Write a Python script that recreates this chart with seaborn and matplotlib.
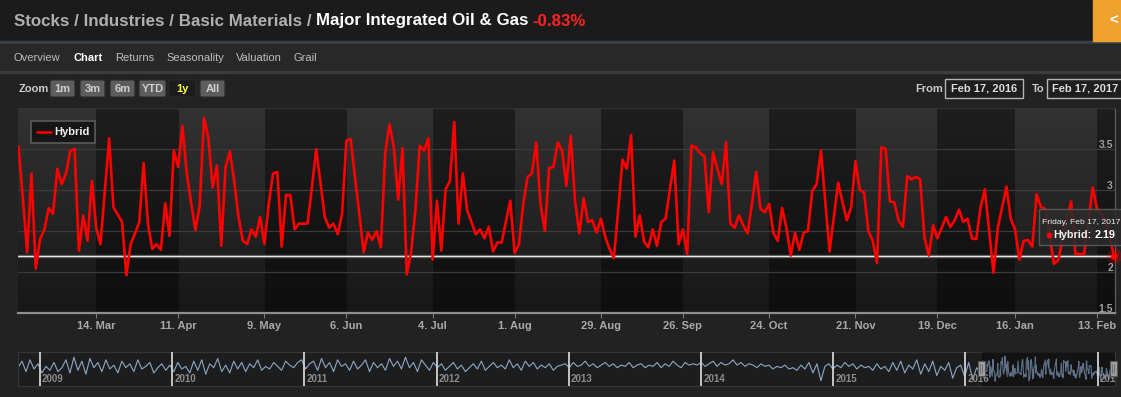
import numpy as np
import pandas as pd
import matplotlib
matplotlib.use("Agg")
import matplotlib.pyplot as plt
import matplotlib.dates as mdates
import matplotlib.patheffects as pe
from matplotlib.patches import Rectangle, FancyBboxPatch
from matplotlib.transforms import ScaledTranslation
import seaborn as sns

sns.set_theme(style="dark")
plt.rcParams["font.family"] = ["Liberation Sans", "DejaVu Sans"]

W, H = 1121, 397

# ---------------- data ----------------
start_date = "2016-02-17"
end_date = "2017-02-17"
market_holidays = ["2016-03-25", "2016-05-30", "2016-07-04", "2016-09-05",
                   "2016-11-24", "2016-12-26", "2017-01-02", "2017-01-16"]

hybrid = [
    3.53, 2.90, 2.24, 3.20, 2.04, 2.40, 2.52, 2.78, 2.71, 3.26, 3.07, 3.20, 3.48, 3.50, 2.26, 2.69,
    2.38, 3.11, 2.54, 2.34, 2.99, 3.63, 2.79, 2.70, 2.61, 1.96, 2.34, 2.47, 2.61, 3.33, 2.59, 2.28,
    2.34, 2.27, 2.84, 2.44, 3.48, 3.28, 3.78, 3.20, 2.85, 2.51, 2.81, 3.88, 3.64, 3.03, 3.30, 2.32,
    3.28, 3.47, 3.11, 2.67,
    2.38, 2.34, 2.52, 2.43, 2.67, 2.34, 2.83, 3.20, 3.22, 2.31, 2.94, 2.94, 2.52, 2.59, 2.59, 2.59,
    3.03, 3.50, 3.09, 2.67, 2.54, 2.59, 2.46, 2.71, 3.60, 3.62, 3.15, 2.71, 2.24, 2.48, 2.39, 2.50,
    2.30, 3.45, 3.80, 3.52, 2.88, 3.51, 1.97, 2.24, 2.75, 3.54, 3.48, 3.63, 2.15, 2.87, 2.26, 3.01,
    3.11, 3.83, 2.59,
    3.20, 2.75, 2.61, 2.46, 2.52, 2.41, 2.55, 2.25, 2.36, 2.36, 2.62, 2.87, 2.23, 2.34, 2.83, 3.16,
    3.20, 3.58, 2.83, 2.50, 3.27, 3.28, 3.58, 3.48, 3.05, 3.66, 2.87, 2.47, 2.90, 2.61, 2.63, 2.48,
    2.65, 2.43, 2.28, 2.17, 2.75, 3.37, 3.26, 3.67, 2.43, 2.69, 2.37, 2.30, 2.52, 2.32, 2.61, 2.65,
    3.01, 3.36, 2.34,
    2.52, 2.22, 3.54, 3.52, 3.45, 3.41, 2.73, 3.46, 3.26, 3.07, 3.58, 2.59, 2.54, 2.69, 2.57, 2.47,
    2.83, 3.22, 2.77, 2.73, 2.83, 2.47, 2.38, 2.78, 2.54, 2.20, 2.48, 2.27, 2.48, 2.50, 2.99, 3.07,
    3.48, 2.87, 2.25, 2.67, 3.09, 2.85, 2.63, 2.79, 3.35, 3.00, 2.97, 2.50, 2.38, 2.11, 3.52, 3.50,
    2.86, 2.85, 2.63,
    2.55, 3.17, 3.13, 3.16, 3.13, 2.42, 2.20, 2.57, 2.41, 2.54, 2.67, 2.55, 2.63, 2.76, 2.61, 2.65,
    2.41, 2.40, 2.79, 3.01, 2.50, 1.99, 2.54, 2.79, 3.04, 2.65, 2.52, 2.15, 2.38, 2.39, 2.31, 2.95,
    2.79, 2.77, 2.45, 2.10, 2.14, 2.40, 2.65, 2.86, 2.22, 2.22, 2.22, 2.62, 3.03, 2.77, 2.70, 2.62,
    2.40, 2.19,
]

tick_dates = ["2016-03-14", "2016-04-11", "2016-05-09", "2016-06-06", "2016-07-04",
              "2016-08-01", "2016-08-29", "2016-09-26", "2016-10-24", "2016-11-21",
              "2016-12-19", "2017-01-16", "2017-02-13"]
tick_labels = ["14. Mar", "11. Apr", "9. May", "6. Jun", "4. Jul", "1. Aug", "29. Aug",
               "26. Sep", "24. Oct", "21. Nov", "19. Dec", "16. Jan", "13. Feb"]
grid_values = [2.0, 2.5, 3.0, 3.5, 4.0]
# the 2.5 label sits behind the tooltip in the reference, so only these are visible
y_label_values = [1.5, 2.0, 3.0, 3.5]
y_label_texts = ["1.5", "2", "3", "3.5"]

# navigator history before the selected year (estimated from the overview strip, Nov 2008 - Feb 2016)
nav_start = "2008-11-01"
nav_hist_2008 = [3.0, 3.5, 2.7, 3.6, 2.9]
nav_hist_2009 = [3.3, 2.6, 3.1, 2.8, 3.4, 2.7, 3.0, 3.6, 2.6, 3.8, 2.8, 3.5, 2.5, 3.7, 3.0, 3.4, 2.7,
                 3.6, 2.9, 3.2, 2.6, 3.5, 3.0, 3.3, 2.7, 3.6, 2.9, 3.1, 3.4, 2.6, 3.0, 3.3, 2.8]
nav_hist_2010 = [3.2, 2.7, 3.4, 2.9, 3.1, 2.6, 3.5, 2.8, 3.6, 2.5, 3.3, 3.0, 3.7, 2.7, 3.2, 2.6, 3.5,
                 2.9, 3.4, 2.7, 3.3, 3.0, 3.6, 2.8, 3.1, 2.9, 3.4, 3.1, 2.8, 3.5, 3.2, 3.0, 3.4]
nav_hist_2011 = [3.6, 2.9, 3.3, 3.5, 2.8, 3.7, 3.0, 3.4, 2.7, 3.6, 3.1, 3.3, 2.8, 3.5, 2.9, 3.2, 3.6,
                 2.7, 3.4, 3.0, 3.3, 2.8, 3.7, 3.1, 3.5, 2.9, 3.8, 3.0, 3.4, 2.7, 3.6, 3.2, 2.8]
nav_hist_2012 = [3.4, 3.0, 3.3, 2.8, 3.1, 3.4, 2.9, 3.2, 2.7, 3.0, 3.3, 2.9, 3.5, 2.8, 3.1, 3.4, 3.0,
                 3.2, 2.9, 3.6, 3.0, 3.3, 2.8, 3.5, 3.1, 3.4, 2.9, 3.2, 3.0, 3.3, 2.8, 3.1, 3.2]
nav_hist_2013 = [3.3, 3.0, 3.4, 3.1, 3.2, 3.5, 3.1, 3.3, 3.0, 3.2, 3.4, 3.1, 3.3, 3.0, 3.2, 3.1, 3.4,
                 3.0, 3.2, 3.3, 3.0, 3.2, 3.1, 3.4, 3.0, 3.3, 3.1, 3.5, 3.2, 3.0, 3.4, 3.2, 3.3]
nav_hist_2014 = [3.2, 3.4, 3.1, 3.3, 3.5, 3.1, 3.4, 3.2, 3.3, 3.6, 3.2, 3.4, 3.1, 3.3, 3.2, 3.0, 3.3,
                 3.1, 3.2, 2.9, 3.1, 3.0, 3.2, 2.9, 3.0, 2.8, 3.2, 2.9, 3.4, 2.6, 3.3, 2.0, 3.1]
nav_hist_2015 = [3.3, 2.9, 3.2, 3.0, 3.4, 3.1, 3.3, 2.9, 3.2, 3.0, 3.1, 2.8, 3.3, 2.9, 3.1, 2.7, 3.4,
                 2.8, 3.5, 2.6, 3.2, 2.9, 3.6, 2.5, 3.3, 2.7, 3.5, 2.4, 3.1, 2.8, 3.4, 2.2, 3.0]
nav_hist_2016 = [3.2, 2.3, 3.4, 2.1, 3.0, 2.6]
nav_years = [2009, 2010, 2011, 2012, 2013, 2014, 2015, 2016, 2017]

tabs = ["Overview", "Chart", "Returns", "Seasonality", "Valuation", "Grail"]
zoom_buttons = ["1m", "3m", "6m", "YTD", "1y", "All"]

# ---------------- figure ----------------
fig = plt.figure(figsize=(W / 100, H / 100), dpi=100, facecolor="#222222")


def px_axes(x0, y0, x1, y1, **kw):
    return fig.add_axes([x0 / W, 1 - y1 / H, (x1 - x0) / W, (y1 - y0) / H], **kw)


bg = px_axes(0, 0, W, H, zorder=0)
bg.set_xlim(0, W); bg.set_ylim(H, 0); bg.axis("off")
fg = px_axes(0, 0, W, H, zorder=10)
fg.set_xlim(0, W); fg.set_ylim(H, 0); fg.axis("off")

renderer = fig.canvas.get_renderer()


def chain(ax_, x, y, parts, size, weight, gap, **kw):
    for s, col in parts:
        t = ax_.text(x, y, s, color=col, fontsize=size, fontweight=weight, ha="left", va="center", **kw)
        bb = t.get_window_extent(renderer=renderer)
        x += bb.width + gap
    return x


# header
bg.add_patch(Rectangle((0, 0), W, 41, color="#1b1b1b"))
bg.add_patch(Rectangle((0, 41), W, 3, color="#384048"))
bg.add_patch(Rectangle((0, 44), W, 27, color="#282828"))
bg.add_patch(Rectangle((0, 71), W, 1.5, color="#3c3c3c"))
bg.add_patch(Rectangle((1093, 0), 28, 41, color="#eea12c"))
bg.text(1114, 21, "<", color="white", fontsize=11, fontweight="bold", ha="center", va="center")

chain(bg, 14, 21, [("Stocks / Industries / Basic Materials /", "#b0b0b0"),
                   ("Major Integrated Oil & Gas", "#ffffff"),
                   ("-0.83%", "#ff2222")], 12.2, "bold", 4)

tab_x = [14, 73, 115, 166, 236, 294]
for name, tx in zip(tabs, tab_x):
    chart = name == "Chart"
    bg.text(tx, 58, name, color="#ffffff" if chart else "#bdbdbd", fontsize=8,
            fontweight="bold" if chart else "normal", ha="left", va="center")

bg.text(19, 88.5, "Zoom", color="#cccccc", fontsize=8, fontweight="bold", ha="left", va="center")
btn_x = [(50, 75), (80, 105), (110, 135), (139, 166), (169, 196), (200, 225)]
for lab, (bx0, bx1) in zip(zoom_buttons, btn_x):
    sel = lab == "1y"
    bg.add_patch(FancyBboxPatch((bx0, 80), bx1 - bx0, 17, boxstyle="round,pad=0,rounding_size=2",
                                fc="#1c1c1c" if sel else "#5d5d5d", ec="#2a2a2a", lw=0.8))
    bg.text((bx0 + bx1) / 2, 88.5, lab, color="#ffff3a" if sel else "#cfcfcf", fontsize=8,
            fontweight="bold", ha="center", va="center")

bg.text(915, 88.5, "From", color="#cccccc", fontsize=8, fontweight="bold", ha="left", va="center")
bg.add_patch(Rectangle((945, 79), 78, 19, fc="#1e1e1e", ec="#b5b5b5", lw=1))
bg.text(984, 88.5, "Feb 17, 2016", color="#dddddd", fontsize=8, fontweight="bold", ha="center", va="center")
bg.text(1032, 88.5, "To", color="#cccccc", fontsize=8, fontweight="bold", ha="left", va="center")
bg.add_patch(Rectangle((1047, 79), 80, 19, fc="#1e1e1e", ec="#b5b5b5", lw=1))
bg.text(1052, 88.5, "Feb 17, 2017", color="#dddddd", fontsize=8, fontweight="bold", ha="left", va="center")

# ---------------- main chart ----------------
dates = pd.bdate_range(start_date, end_date, freq="C", holidays=market_holidays)
n = min(len(dates), len(hybrid))
dates = dates[:n]
df = pd.DataFrame({"i": np.arange(n), "v": hybrid[:n], "date": dates})
tickpos = dates.searchsorted(pd.to_datetime(tick_dates))

ax = px_axes(18, 108, 1114.5, 313, zorder=2)
ax.set_facecolor("none")
x0, x1 = -0.12, n - 1 + 0.05
ylo, yhi = 1.5, 4.0

cols = np.linspace(x0, x1, 2200)
bid = np.searchsorted(tickpos, cols, side="right")
light = (bid % 2 == 0)[:, None]
rgb = matplotlib.colors.to_rgb
top = np.where(light, rgb("#323232"), rgb("#1e1e1e"))
bot = np.where(light, rgb("#171717"), rgb("#0e0e0e"))
tt = np.linspace(0, 1, 200)[:, None, None]
img = top[None] * (1 - tt) + bot[None] * tt
ax.imshow(img, extent=(x0, x1, ylo, yhi), aspect="auto", origin="upper",
          interpolation="nearest", zorder=0)

for v in grid_values:
    ax.axhline(v, color="#3b3b3b", lw=0.9, zorder=1)

last_v = hybrid[n - 1]
ax.axhline(last_v, color="#e8e8e8", lw=0.8, zorder=3,
           path_effects=[pe.Stroke(linewidth=2.4, foreground="#5e5e5e"), pe.Normal()])

sns.lineplot(data=df, x="i", y="v", ax=ax, color="#ff0000", linewidth=1.9, zorder=4, legend=False)
ax.scatter([n - 1], [last_v], s=120, color="#ff0000", alpha=0.25, linewidths=0, zorder=5, clip_on=False)
ax.scatter([n - 1], [last_v], s=24, color="#ff0000", linewidths=0, zorder=6, clip_on=False)

ax.set_xlim(x0, x1)
ax.set_ylim(ylo, yhi)
ax.set_xlabel(""); ax.set_ylabel("")
ax.set_xticks(tickpos)
ax.set_xticklabels(tick_labels)
ax.set_yticks([])
ax.tick_params(axis="x", bottom=True, length=3.6, width=0.8, color="#7a7a7a",
               labelcolor="#a9a9a9", labelsize=8, pad=2.3, direction="out")
for lab in ax.get_xticklabels():
    lab.set_fontweight("bold")
for side, spine in ax.spines.items():
    spine.set_visible(True)
ax.spines["bottom"].set_color("#8e8e8e"); ax.spines["bottom"].set_linewidth(1.6)
ax.spines["right"].set_color("#5e5e5e"); ax.spines["right"].set_linewidth(0.9)
ax.spines["top"].set_color("#333333"); ax.spines["top"].set_linewidth(0.8)
ax.spines["left"].set_visible(False)

ylab_tr = ax.get_yaxis_transform() + ScaledTranslation(-1.5 / 100, 4 / 100, fig.dpi_scale_trans)
for v, lab in zip(y_label_values, y_label_texts):
    ax.text(1.0, v, lab, transform=ylab_tr, ha="right", va="center", color="#a0a0a0",
            fontsize=7.5, fontweight="bold", zorder=7)

# legend
fg.add_patch(Rectangle((30.5, 120.5), 64.5, 22, fc="#161616", ec="#5a5a5a", lw=1.2))
fg.plot([37, 51], [132, 132], color="#ff0000", lw=1.8)
fg.text(54, 132, "Hybrid", color="#eeeeee", fontsize=8, fontweight="bold", ha="left", va="center")

# tooltip
fg.add_patch(Rectangle((1039, 209), 90, 36, fc="#2b2b2b", ec="#5c5c5c", lw=1, alpha=0.88))
fg.text(1042, 222, "Friday, Feb 17, 2017", color="#f0f0f0", fontsize=6.1, ha="left", va="center")
fg.plot([1048.5], [234.5], "o", color="#ff0000", ms=3.2)
chain(fg, 1053, 234.5, [("Hybrid:", "#f0f0f0"), (f"{last_v:.2f}", "#ffffff")], 7.8, "bold", 3)

# ---------------- navigator ----------------
nav_hist = (nav_hist_2008 + nav_hist_2009 + nav_hist_2010 + nav_hist_2011 + nav_hist_2012
            + nav_hist_2013 + nav_hist_2014 + nav_hist_2015 + nav_hist_2016)
nav = px_axes(18, 352, 1115, 386, zorder=2)
nav.set_facecolor("#1d1d1d")
hist_dates = pd.date_range(nav_start, "2016-02-12", periods=len(nav_hist))
nav_df = pd.DataFrame({"d": list(hist_dates) + list(dates), "v": list(nav_hist) + list(hybrid[:n])})
nav_df["x"] = mdates.date2num(nav_df["d"])
sns.lineplot(data=nav_df, x="x", y="v", ax=nav, color="#8ba7c9", linewidth=0.8, legend=False)
nx0 = mdates.date2num(pd.Timestamp(nav_start))
nx1 = mdates.date2num(pd.Timestamp(end_date))
nav.set_xlim(nx0, nx1)
nav.set_ylim(1.6, 4.2)
nav.set_xticks([]); nav.set_yticks([])
nav.set_xlabel(""); nav.set_ylabel("")
for s in nav.spines.values():
    s.set_visible(True); s.set_color("#363636"); s.set_linewidth(0.8)
nav.axvspan(mdates.date2num(pd.Timestamp(start_date)), nx1, color="#000000", alpha=0.32, zorder=3)
lab_tr = nav.get_xaxis_transform() + ScaledTranslation(2 / 100, 0, fig.dpi_scale_trans)
for yr in nav_years:
    xv = mdates.date2num(pd.Timestamp(f"{yr}-01-01"))
    nav.axvline(xv, color="#d2d2d2", lw=1.3, zorder=4)
    nav.text(xv, 0.06, str(yr), transform=lab_tr, color="#8c8c8c", fontsize=7, fontweight="bold",
             ha="left", va="bottom", zorder=5, clip_on=True)

for hx in (981, 1113):
    fg.add_patch(Rectangle((hx - 3.5, 361), 7, 15, fc="#a0a0a0", ec="#555555", lw=0.8))
    fg.plot([hx - 1, hx - 1], [364, 373], color="#666666", lw=0.6)
    fg.plot([hx + 1, hx + 1], [364, 373], color="#666666", lw=0.6)

fig.savefig("out.png", dpi=100, facecolor=fig.get_facecolor())
